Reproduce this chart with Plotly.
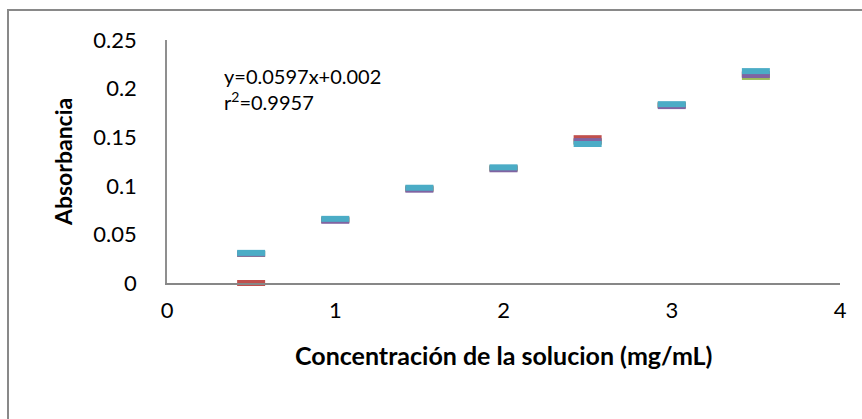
import plotly.graph_objects as go

conc = [0.5, 1.0, 1.5, 2.0, 2.5, 3.0, 3.5]
abs_red = [0.000, 0.065, 0.097, 0.118, 0.149, 0.183, 0.215]
abs_olive = [0.030, 0.065, 0.097, 0.118, 0.145, 0.183, 0.212]
abs_purple = [0.030, 0.064, 0.096, 0.117, 0.146, 0.182, 0.214]
abs_teal = [0.031, 0.066, 0.098, 0.119, 0.143, 0.184, 0.218]

x_ticks = [0, 1, 2, 3, 4]
y_ticks = [0, 0.05, 0.1, 0.15, 0.2, 0.25]
y_tick_text = ["0", "0.05", "0.1", "0.15", "0.2", "0.25"]

FONT = "Lato"

fig = go.Figure()
series = [
    (abs_red, "#C0504D"),
    (abs_olive, "#9BBB59"),
    (abs_purple, "#8064A2"),
    (abs_teal, "#4BACC6"),
]
for vals, col in series:
    fig.add_trace(go.Scatter(
        x=conc, y=vals, mode="markers", cliponaxis=False,
        marker=dict(symbol="line-ew", size=20, line=dict(color=col, width=6)),
        showlegend=False, hoverinfo="x+y",
    ))

L, R, T, B = 167, 840, 40, 283
W, H = 862, 419

def px(x):
    return (x - L) / (R - L)

def py(y):
    return (B - y) / (B - T)

fig.update_layout(
    width=W, height=H,
    margin=dict(l=L, r=W - R, t=T, b=H - B),
    paper_bgcolor="white", plot_bgcolor="white",
    font=dict(family=FONT, size=22, color="#000000"),
    xaxis=dict(range=[0, 4], tickvals=x_ticks, showgrid=False, zeroline=False,
               showline=True, linecolor="#878787", linewidth=2, ticks="",
               ticklabelstandoff=7, tickfont=dict(size=22)),
    yaxis=dict(range=[0, 0.25], tickvals=y_ticks, ticktext=y_tick_text,
               showgrid=False, zeroline=False, showline=True,
               linecolor="#8f8f8f", linewidth=1.5, ticks="",
               ticklabelstandoff=24, tickfont=dict(size=22)),
    shapes=[dict(type="rect", xref="paper", yref="paper",
                 x0=px(8), x1=px(875), y0=py(430), y1=py(10),
                 line=dict(color="#898989", width=2), layer="below")],
    annotations=[
        dict(text="y=0.0597x+0.002", x=0.327, y=0.2130, xref="x", yref="y",
             xanchor="left", yanchor="middle", showarrow=False,
             font=dict(size=20)),
        dict(text="r<sup>2</sup>=0.9957", x=0.327, y=0.1872, xref="x", yref="y",
             xanchor="left", yanchor="middle", showarrow=False,
             font=dict(size=20)),
        dict(text="<b>Concentración de la solucion (mg/mL)</b>", xref="paper", yref="paper",
             x=px(503), y=py(355), xanchor="center", yanchor="middle",
             showarrow=False, font=dict(size=25)),
        dict(text="<b>Absorbancia</b>", xref="paper", yref="paper",
             x=px(63), y=py(162), xanchor="center", yanchor="middle",
             textangle=-90, showarrow=False, font=dict(size=23)),
    ],
)

fig.write_html("out.html")
